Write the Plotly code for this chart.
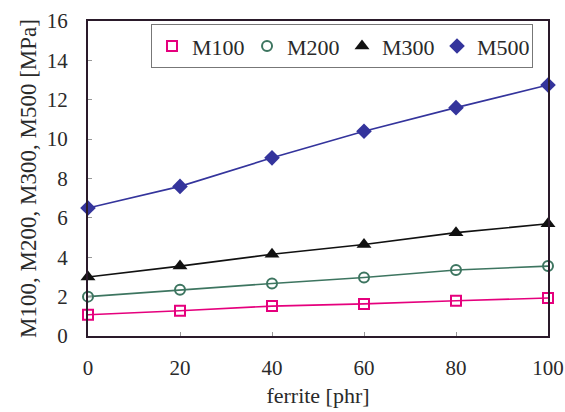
import plotly.graph_objects as go

ferrite = [0, 20, 40, 60, 80, 100]
m100 = [1.08, 1.28, 1.52, 1.63, 1.79, 1.93]
m200 = [2.0, 2.35, 2.67, 2.97, 3.35, 3.55]
m300 = [3.0, 3.55, 4.15, 4.65, 5.25, 5.7]
m500 = [6.5, 7.6, 9.05, 10.4, 11.6, 12.75]

series = [
    ("M100", m100, "#e5007d", dict(symbol="square-open", size=10, line=dict(width=2))),
    ("M200", m200, "#3d7560", dict(symbol="circle-open", size=10, line=dict(width=2))),
    ("M300", m300, "#111111", dict(symbol="triangle-up", size=13)),
    ("M500", m500, "#34349c", dict(symbol="diamond", size=12)),
]

fig = go.Figure()
for name, ys, col, mk in series:
    fig.add_trace(go.Scatter(
        x=ferrite, y=ys, name=name, mode="lines", showlegend=False,
        line=dict(color=col, width=1.6), cliponaxis=False,
    ))
for name, ys, col, mk in series:
    fig.add_trace(go.Scatter(
        x=ferrite, y=ys, name=name, mode="markers",
        marker=dict(color=col, **mk), cliponaxis=False,
    ))

font = "Liberation Serif, Times New Roman, serif"
txt = "#2a2a2a"
fig.update_layout(
    width=565, height=412,
    margin=dict(l=88, r=17, t=21, b=76),
    plot_bgcolor="white", paper_bgcolor="white",
    font=dict(family=font, size=20, color=txt),
    showlegend=True,
    legend=dict(
        orientation="h", x=0.137, y=0.99, xanchor="left", yanchor="top",
        bordercolor="#777777", borderwidth=1, bgcolor="white",
        font=dict(family=font, size=22, color=txt),
        itemwidth=30, tracegroupgap=0,
        entrywidth=50, entrywidthmode="pixels",
    ),
    xaxis=dict(
        range=[0, 100], tickvals=ferrite, ticks="inside", ticklen=4,
        tickcolor="#999999", showgrid=False, zeroline=False, automargin=False,
        showline=True, linecolor="#2a1a2a", linewidth=2, mirror=True,
        tickfont=dict(family=font, size=21, color=txt),
        ticklabelstandoff=12,
        title=dict(text="ferrite [phr]", font=dict(family=font, size=22, color=txt), standoff=8),
    ),
    yaxis=dict(
        range=[0, 16], dtick=2, ticks="inside", ticklen=4,
        tickcolor="#999999", showgrid=False, zeroline=False, automargin=False,
        showline=True, linecolor="#2a1a2a", linewidth=2, mirror=True,
        tickfont=dict(family=font, size=21, color=txt),
        ticklabelstandoff=14,
        title=dict(text="M100, M200, M300, M500 [MPa]", font=dict(family=font, size=23, color=txt), standoff=4),
    ),
)
fig.write_html("out.html")
